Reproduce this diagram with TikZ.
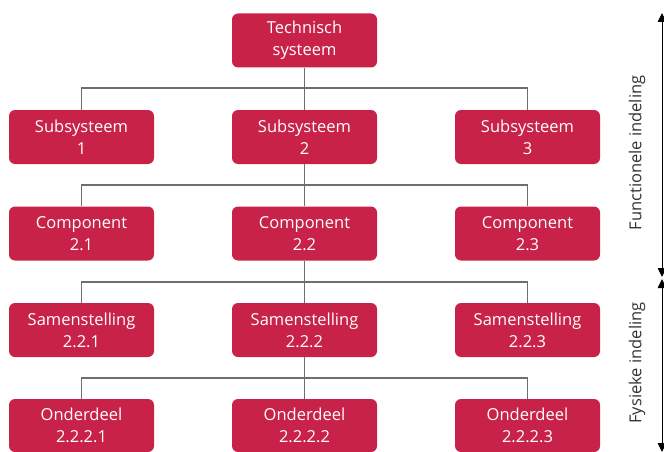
\documentclass[tikz,border=0pt]{standalone}
\usepackage{fontspec}
\setmainfont{Open Sans}
\usetikzlibrary{arrows.meta}
\definecolor{boxred}{RGB}{200,34,72}
\definecolor{linegray}{RGB}{110,110,110}
\begin{document}
\begin{tikzpicture}[x=1pt,y=-1pt,
  block/.style={fill=boxred,rounded corners=6pt,minimum width=145pt,minimum height=54pt,
    inner sep=0pt,text=white,align=center,font=\fontsize{16.5}{22}\selectfont},
  conn/.style={draw=linegray,line width=1.3pt},
  span/.style={draw=black,line width=0.9pt,{Triangle[length=9pt,width=8.5pt]}-{Triangle[length=9pt,width=8.5pt]}},
  side/.style={rotate=90,font=\fontsize{16.5}{20}\selectfont,text=black!80}]
\useasboundingbox (0,0) rectangle (664,452);

% tree of blocks
\node[block] (top) at (304.5,40.5) {Technisch\\systeem};

\node[block] (s1) at (81.5,137) {Subsysteem\\1};
\node[block] (s2) at (304.5,137) {Subsysteem\\2};
\node[block] (s3) at (527.5,137) {Subsysteem\\3};

\node[block] (c1) at (81.5,233.5) {Component\\2.1};
\node[block] (c2) at (304.5,233.5) {Component\\2.2};
\node[block] (c3) at (527.5,233.5) {Component\\2.3};

\node[block] (m1) at (81.5,330) {Samenstelling\\2.2.1};
\node[block] (m2) at (304.5,330) {Samenstelling\\2.2.2};
\node[block] (m3) at (527.5,330) {Samenstelling\\2.2.3};

\node[block,minimum height=53pt] (o1) at (81.5,425.5) {Onderdeel\\2.2.2.1};
\node[block,minimum height=53pt] (o2) at (304.5,425.5) {Onderdeel\\2.2.2.2};
\node[block,minimum height=53pt] (o3) at (527.5,425.5) {Onderdeel\\2.2.2.3};

% distribution bars between levels
\coordinate (bar1) at (304.5,88);
\coordinate (bar2) at (304.5,185);
\coordinate (bar3) at (304.5,282);
\coordinate (bar4) at (304.5,378);

\draw[conn] (s1.north) |- (bar1) -| (s3.north);
\draw[conn] (top.south) -- (s2.north);
\draw[conn] (c1.north) |- (bar2) -| (c3.north);
\draw[conn] (s2.south) -- (c2.north);
\draw[conn] (m1.north) |- (bar3) -| (m3.north);
\draw[conn] (c2.south) -- (m2.north);
\draw[conn] (o1.north) |- (bar4) -| (o3.north);
\draw[conn] (m2.south) -- (o2.north);

% side scale
\coordinate (f1) at (662,13);
\coordinate (f2) at (662,277);
\coordinate (p1) at (662,279);
\coordinate (p2) at (662,452);
\draw[span] (f1) -- (f2);
\draw[span] (p1) -- (p2);
\node[side] (lf) at (637,153) {Functionele indeling};
\node[side] (lp) at (637,363) {Fysieke indeling};
\end{tikzpicture}
\end{document}
